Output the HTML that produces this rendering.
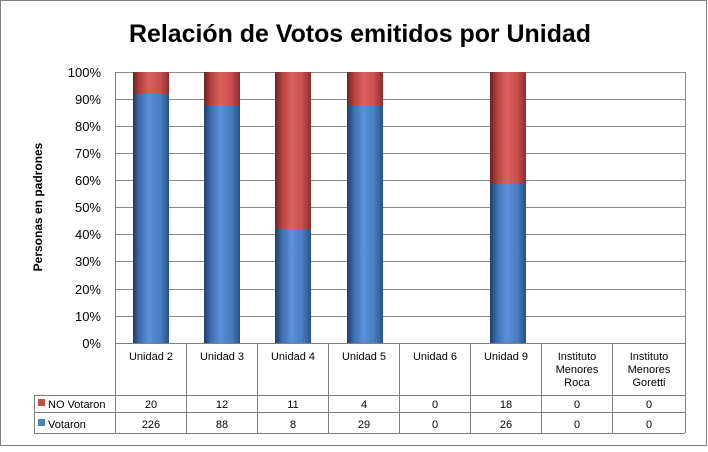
<!DOCTYPE html><html><head><style>
body{margin:0;background:#fff;}
</style></head><body>
<svg width="708" height="447" xmlns="http://www.w3.org/2000/svg" font-family="Liberation Sans, sans-serif">
<defs>
<linearGradient id="b" x1="0" x2="1" y1="0" y2="0">
<stop offset="0" stop-color="#1f3e68"/><stop offset="0.2" stop-color="#3f70b3"/><stop offset="0.45" stop-color="#5b8fd6"/><stop offset="0.75" stop-color="#4a7ec2"/><stop offset="1" stop-color="#2a5287"/></linearGradient>
<linearGradient id="r" x1="0" x2="1" y1="0" y2="0">
<stop offset="0" stop-color="#6e2120"/><stop offset="0.2" stop-color="#b44340"/><stop offset="0.45" stop-color="#d9605c"/><stop offset="0.75" stop-color="#c9504c"/><stop offset="1" stop-color="#8c2e2c"/></linearGradient>
</defs>
<rect x="0.5" y="0.5" width="706" height="445" fill="#fff" stroke="#7f7f7f"/>
<text x="360" y="42" text-anchor="middle" font-size="25" font-weight="bold" textLength="462" lengthAdjust="spacingAndGlyphs">Relación de Votos emitidos por Unidad</text>
<text transform="translate(42,207) rotate(-90)" text-anchor="middle" font-size="12" font-weight="bold">Personas en padrones</text>
<g stroke="#888" stroke-width="1">
<line x1="115" x2="685" y1="72.5" y2="72.5"/><line x1="115" x2="685" y1="99.5" y2="99.5"/><line x1="115" x2="685" y1="126.5" y2="126.5"/><line x1="115" x2="685" y1="153.5" y2="153.5"/><line x1="115" x2="685" y1="180.5" y2="180.5"/><line x1="115" x2="685" y1="207.5" y2="207.5"/><line x1="115" x2="685" y1="234.5" y2="234.5"/><line x1="115" x2="685" y1="261.5" y2="261.5"/><line x1="115" x2="685" y1="289.5" y2="289.5"/><line x1="115" x2="685" y1="316.5" y2="316.5"/>
<line x1="685.5" x2="685.5" y1="72" y2="343"/>
</g>
<g font-size="13" text-anchor="end" fill="#000">
<text x="101" y="77">100%</text><text x="101" y="104">90%</text><text x="101" y="131">80%</text><text x="101" y="158">70%</text><text x="101" y="185">60%</text><text x="101" y="212">50%</text><text x="101" y="239">40%</text><text x="101" y="266">30%</text><text x="101" y="294">20%</text><text x="101" y="321">10%</text><text x="101" y="348">0%</text>
</g>
<rect x="133" y="72" width="36" height="22" fill="url(#r)"/><rect x="133" y="94" width="36" height="249" fill="url(#b)"/>
<rect x="204" y="72" width="36" height="33" fill="url(#r)"/><rect x="204" y="105" width="36" height="238" fill="url(#b)"/>
<rect x="275" y="72" width="36" height="157" fill="url(#r)"/><rect x="275" y="229" width="36" height="114" fill="url(#b)"/>
<rect x="347" y="72" width="36" height="33" fill="url(#r)"/><rect x="347" y="105" width="36" height="238" fill="url(#b)"/>
<rect x="490" y="72" width="36" height="111" fill="url(#r)"/><rect x="490" y="183" width="36" height="160" fill="url(#b)"/>
<g stroke="#7f7f7f" fill="none">
<line x1="115.5" x2="115.5" y1="72" y2="433"/>
<line x1="115" x2="685" y1="343.5" y2="343.5"/>
<line x1="34" x2="685" y1="395.5" y2="395.5"/>
<line x1="34" x2="685" y1="412.5" y2="412.5"/>
<line x1="34" x2="685" y1="433.5" y2="433.5"/>
<line x1="34.5" x2="34.5" y1="395" y2="433"/>
<line x1="186.5" x2="186.5" y1="343" y2="433"/><line x1="257.5" x2="257.5" y1="343" y2="433"/><line x1="328.5" x2="328.5" y1="343" y2="433"/><line x1="399.5" x2="399.5" y1="343" y2="433"/><line x1="470.5" x2="470.5" y1="343" y2="433"/><line x1="541.5" x2="541.5" y1="343" y2="433"/><line x1="612.5" x2="612.5" y1="343" y2="433"/><line x1="685.5" x2="685.5" y1="343" y2="433"/>
</g>
<g font-size="11" text-anchor="middle" fill="#000">
<text x="151" y="360">Unidad 2</text><text x="222" y="360">Unidad 3</text><text x="293" y="360">Unidad 4</text><text x="364" y="360">Unidad 5</text><text x="435" y="360">Unidad 6</text><text x="506" y="360">Unidad 9</text>
<text x="577" y="360">Instituto</text><text x="577" y="373">Menores</text><text x="577" y="386">Roca</text>
<text x="649" y="360">Instituto</text><text x="649" y="373">Menores</text><text x="649" y="386">Goretti</text>
<text x="151" y="408">20</text><text x="222" y="408">12</text><text x="293" y="408">11</text><text x="364" y="408">4</text><text x="435" y="408">0</text><text x="506" y="408">18</text><text x="577" y="408">0</text><text x="649" y="408">0</text>
<text x="151" y="428">226</text><text x="222" y="428">88</text><text x="293" y="428">8</text><text x="364" y="428">29</text><text x="435" y="428">0</text><text x="506" y="428">26</text><text x="577" y="428">0</text><text x="649" y="428">0</text>
</g>
<rect x="38" y="399" width="7" height="7" fill="#c0504d"/>
<rect x="38" y="419" width="7" height="7" fill="#4f81bd"/>
<text x="48" y="408" font-size="11">NO Votaron</text>
<text x="48" y="428" font-size="11">Votaron</text>
</svg>
</body></html>
